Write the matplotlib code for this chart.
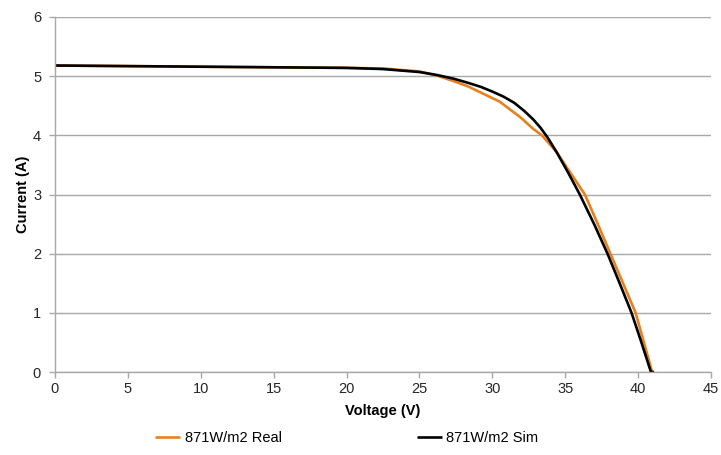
import matplotlib
matplotlib.use("Agg")
import matplotlib.pyplot as plt

plt.rcParams['font.family'] = ['Liberation Sans', 'DejaVu Sans']

sim_v = [0, 5, 10, 15, 20, 22.5, 25.0, 26.2, 27.3, 28.3, 29.2, 30.0, 30.8, 31.5, 32.2, 32.8, 33.3,
         33.8, 34.4, 35.2, 36.0, 37.0, 37.9, 38.7, 39.55, 40.2, 40.88, 41.1]
sim_i = [5.18, 5.17, 5.16, 5.15, 5.14, 5.12, 5.07, 5.02, 4.96, 4.89, 4.82, 4.74, 4.65, 4.55, 4.41, 4.27, 4.13,
         3.96, 3.72, 3.37, 3.00, 2.49, 2.00, 1.52, 1.00, 0.52, 0.0, 0.0]

real_v = [0, 5, 10, 15, 20, 22.5, 25.0, 26.2, 27.3, 28.3, 29.15, 30.5, 31.9, 32.8, 33.4,
          34.4, 35.4, 36.35, 37.2, 38.1, 39.0, 39.83, 40.4, 40.96]
real_i = [5.18, 5.17, 5.16, 5.15, 5.14, 5.13, 5.08, 5.01, 4.92, 4.83, 4.73, 4.57, 4.31, 4.11, 4.00,
          3.72, 3.35, 3.00, 2.52, 2.00, 1.48, 1.00, 0.50, 0.0]

series_labels = ["871W/m2 Real", "871W/m2 Sim"]
x_ticks = [0, 5, 10, 15, 20, 25, 30, 35, 40, 45]
y_ticks = [0, 1, 2, 3, 4, 5, 6]

fig = plt.figure(figsize=(7.21, 4.55), dpi=100)
ax = fig.add_axes([55/721, 1-372/455, (711-55)/721, (372-17)/455])

ax.plot(real_v, real_i, color='#E8801E', lw=1.9, label=series_labels[0],
        solid_capstyle='butt', solid_joinstyle='round')
ax.plot(sim_v, sim_i, color='#000000', lw=1.9, label=series_labels[1],
        solid_capstyle='butt', solid_joinstyle='round')

ax.set_xlim(0, 45)
ax.set_ylim(0, 6)
ax.set_xticks(x_ticks)
ax.set_yticks(y_ticks)
ax.yaxis.grid(True, color='#A8A8A8', lw=1)
ax.set_axisbelow(True)
for s in ['top', 'right']:
    ax.spines[s].set_visible(False)
for s in ['left', 'bottom']:
    ax.spines[s].set_color('#A8A8A8')
    ax.spines[s].set_linewidth(1)
ax.tick_params(axis='both', colors='#A8A8A8', labelcolor='#262626', labelsize=10.5,
               length=4, width=1, direction='out')
ax.tick_params(axis='x', pad=3)
ax.tick_params(axis='y', pad=6)

ax.set_xlabel("Voltage (V)", fontsize=10.5, fontweight='bold', color='#000000', labelpad=6)
ax.set_ylabel("Current (A)", fontsize=10.5, fontweight='bold', color='#000000', labelpad=2)

fig.legend(loc='center', bbox_to_anchor=(347/721, 1-438/455), ncol=2, frameon=False,
           fontsize=10.5, handlelength=1.7, handletextpad=0.3, columnspacing=9.3)

fig.savefig("out.png", dpi=100)
